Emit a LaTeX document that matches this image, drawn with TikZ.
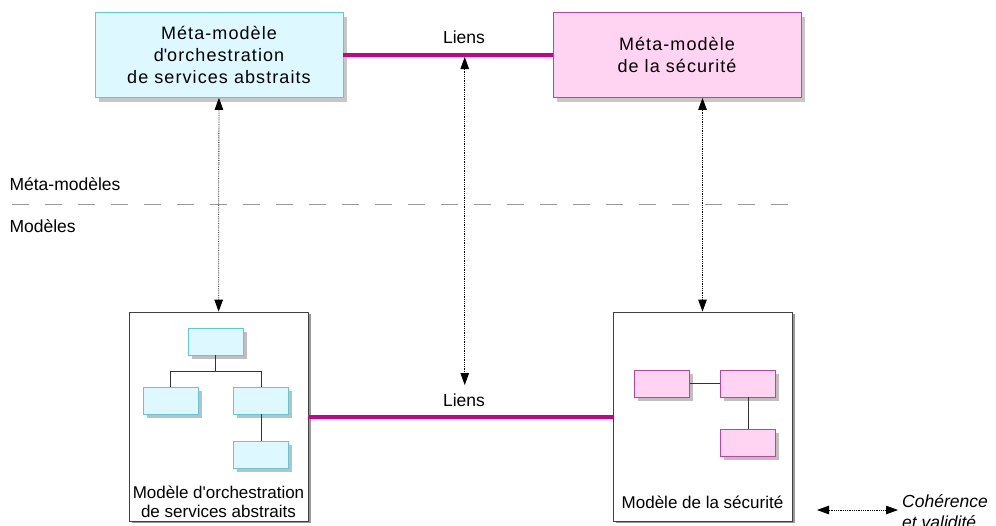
\documentclass[tikz,border=0pt]{standalone}
\usepackage{fontspec}
\setmainfont{Liberation Sans}
\usetikzlibrary{arrows.meta, positioning, shadows}
\definecolor{orchfond}{HTML}{DDF8FF}
\definecolor{orchtrait}{HTML}{5FC8DA}
\definecolor{secfond}{HTML}{FFD4F2}
\definecolor{sectrait}{HTML}{B4489E}
\definecolor{lienrose}{HTML}{CC0088}

\begin{document}
\begin{tikzpicture}[x=1pt, y=-1pt,
    font=\fontsize{17.5}{21}\selectfont,
    metabox/.style={draw, line width=0.8pt, minimum width=248pt, minimum height=85pt, align=center,
      font=\fontsize{18}{22}\selectfont\addfontfeatures{LetterSpace=6},
      drop shadow={shadow xshift=4pt, shadow yshift=-4pt, fill=black!22, opacity=1}},
    modbox/.style={draw=black!75, line width=0.8pt, fill=white, minimum width=179pt, minimum height=209pt,
      drop shadow={shadow xshift=3pt, shadow yshift=-2pt, fill=black!40, opacity=1}},
    petit/.style={draw, line width=0.8pt, minimum width=55pt, minimum height=27pt, inner sep=0pt,
      drop shadow={shadow xshift=3.5pt, shadow yshift=-3.5pt, fill=black!25, opacity=1}},
    lien/.style={draw=lienrose, line width=3.2pt},
    coherence/.style={densely dotted, line width=0.8pt, {Triangle[length=12pt,width=8.5pt]}-{Triangle[length=12pt,width=8.5pt]}}
  ]
    \useasboundingbox (0,0) rectangle (996,525);
    \clip (0,0) rectangle (996,525);

    % meta-modeles
    \node[metabox, fill=orchfond, draw=orchtrait] (mmorch) at (219,55) {Méta-modèle\\d\textquotesingle orchestration\\de services abstraits};
    \node[metabox, fill=secfond, draw=sectrait] (mmsec) at (677,55) {Méta-modèle\\de la sécurité};
    \draw[lien] (mmorch.east) -- (mmsec.west) coordinate[pos=0.58] (milhaut);
    \node (lhaut) at (464,37) {Liens};

    % separation
    \draw[black!40, line width=0.8pt, dash pattern=on 17pt off 16pt] (12,204) -- (790,204);
    \node[anchor=west] (lmeta) at (6,184) {Méta-modèles};
    \node[anchor=west] (lmod) at (6,226) {Modèles};

    % modeles
    \node[modbox] (morch) at (218.5,416.5) {};
    \node[modbox] (msec) at (702.5,416.5) {};
    \node[anchor=south, align=center, inner sep=4pt, font=\fontsize{17}{18.5}\selectfont] (torch) at (morch.south) {Modèle d\textquotesingle orchestration\\de services abstraits};
    \node[anchor=south, inner sep=0pt, yshift=13pt, font=\fontsize{17}{18.5}\selectfont] (tsec) at (msec.south) {Modèle de la sécurité};

    \node[petit, fill=orchfond, draw=orchtrait] (o1) at (215.5,341.5) {};
    \node[petit, fill=orchfond, draw=orchtrait] (o2) at (170.5,400.5) {};
    \node[petit, fill=orchfond, draw=orchtrait] (o3) at (261,400.5) {};
    \node[petit, fill=orchfond, draw=orchtrait] (o4) at (261,455) {};
    \draw[black!80, line width=0.8pt] (o2.north) -- ++(0,-15) -| (o3.north);
    \draw[black!80, line width=0.8pt] (o1.south) -- ++(0,17);
    \draw[black!80, line width=0.8pt] (o3) -- (o4);

    \node[petit, fill=secfond, draw=sectrait] (s1) at (662,383.5) {};
    \node[petit, fill=secfond, draw=sectrait] (s2) at (748,383.5) {};
    \node[petit, fill=secfond, draw=sectrait] (s3) at (748,443) {};
    \draw[black!80, line width=0.8pt] (s1) -- (s2);
    \draw[black!80, line width=0.8pt] (s2) -- (s3);

    \draw[lien] (morch.east |- 0,417) -- (msec.west |- 0,417);
    \node (lbas) at (464,400) {Liens};

    % coherence
    \draw[coherence] (mmorch) -- (morch);
    \draw[coherence] (mmsec.south -| msec.north) -- (msec.north);
    \draw[coherence, shorten <=2pt, shorten >=5pt] (milhaut) -- (milhaut |- lbas.north);

    % legende
    \coordinate (lg1) at (817,510);
    \coordinate (lg2) at (898,510);
    \draw[coherence] (lg1) -- (lg2);
    \node[anchor=north west, inner sep=0pt, align=left, font=\fontsize{17.5}{21}\selectfont\itshape] (legende) at (902,494) {Cohérence\\et validité};
  \end{tikzpicture}
\end{document}
